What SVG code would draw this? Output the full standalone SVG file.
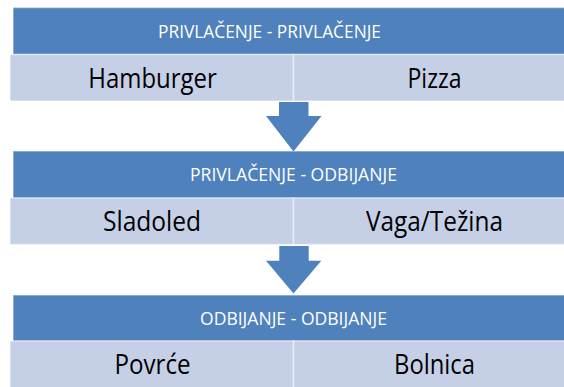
<svg xmlns="http://www.w3.org/2000/svg" width="564" height="387" viewBox="0 0 564 387">
<style>
.hdr{fill:#4F81BD;stroke:#FFFFFF;stroke-opacity:0.45;stroke-width:1.5}
.cell{fill:#C5D0E6;stroke:#FFFFFF;stroke-opacity:0.45;stroke-width:1.5}
.arrow{fill:#4F81BD}
.ht{font-family:"Open Sans","Noto Sans","Liberation Sans",sans-serif;font-size:18px;fill:#FFFFFF;text-anchor:middle}
.bt{font-family:"Open Sans","Noto Sans","Liberation Sans",sans-serif;font-size:26.5px;fill:#000000;text-anchor:middle}
</style>
<rect width="564" height="387" fill="#FFFFFF"/>
<g id="block1">
<rect class="hdr" x="13" y="7.5" width="562" height="47"/>
<rect class="cell" x="10" y="54.5" width="283.5" height="46.5"/>
<rect class="cell" x="293.5" y="54.5" width="283.5" height="46.5"/>
<text class="ht" x="269.5" y="37.8" textLength="223" lengthAdjust="spacingAndGlyphs">PRIVLAČENJE - PRIVLAČENJE</text>
<text class="bt" x="152.5" y="87.8" textLength="128.5" lengthAdjust="spacingAndGlyphs">Hamburger</text>
<text class="bt" x="434.5" y="87.8" textLength="54" lengthAdjust="spacingAndGlyphs">Pizza</text>
</g>
<g id="block2">
<rect class="hdr" x="13" y="151" width="562" height="47"/>
<rect class="cell" x="10" y="198" width="283.5" height="46.5"/>
<rect class="cell" x="293.5" y="198" width="283.5" height="46.5"/>
<text class="ht" x="293.5" y="181.3" textLength="207" lengthAdjust="spacingAndGlyphs">PRIVLAČENJE - ODBIJANJE</text>
<text class="bt" x="152" y="231.3" textLength="98" lengthAdjust="spacingAndGlyphs">Sladoled</text>
<text class="bt" x="434.5" y="231.3" textLength="137" lengthAdjust="spacingAndGlyphs">Vaga/Težina</text>
</g>
<g id="block3">
<rect class="hdr" x="13" y="295" width="562" height="46"/>
<rect class="cell" x="10" y="341" width="283.5" height="47"/>
<rect class="cell" x="293.5" y="341" width="283.5" height="47"/>
<text class="ht" x="293.5" y="324.8" textLength="187" lengthAdjust="spacingAndGlyphs">ODBIJANJE - ODBIJANJE</text>
<text class="bt" x="152.5" y="374.3" textLength="76" lengthAdjust="spacingAndGlyphs">Povrće</text>
<text class="bt" x="434.5" y="374.3" textLength="81" lengthAdjust="spacingAndGlyphs">Bolnica</text>
</g>
<g id="connectors">
<path class="arrow" d="M279,102 H308.5 V116 H321.5 L293.5,151.5 L266,116 H279 Z"/>
<path class="arrow" d="M279.3,246 H308.7 V260.7 H321.3 L293.5,293.5 L266,260.7 H279.3 Z"/>
</g>
</svg>
